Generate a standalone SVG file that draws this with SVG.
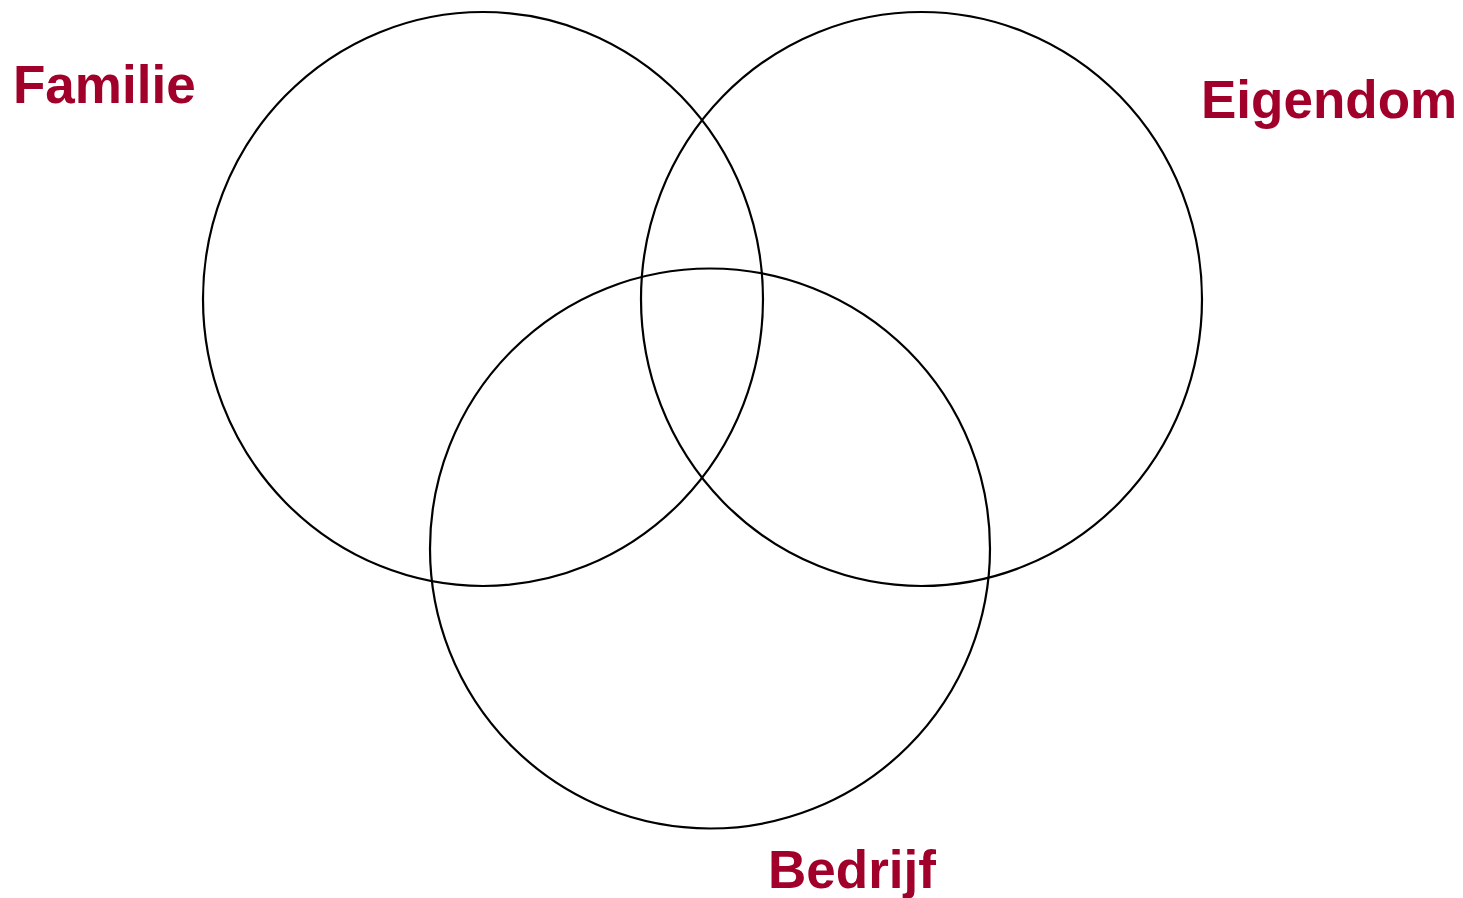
<svg xmlns="http://www.w3.org/2000/svg" width="1463" height="898" viewBox="0 0 1463 898">
<style>
.c{fill:none;stroke:#000;stroke-width:2.2}
.t{font-family:"Liberation Sans",Arial,sans-serif;font-weight:bold;font-size:53px;fill:#A0002A}
</style>
<rect width="1463" height="898" fill="#fff"/>
<g id="familie">
<ellipse class="c" cx="483" cy="299" rx="280" ry="287"/>
<text class="t" x="13" y="103">Familie</text>
</g>
<g id="eigendom">
<ellipse class="c" cx="921.5" cy="299" rx="280.5" ry="287"/>
<text class="t" x="1201" y="118">Eigendom</text>
</g>
<g id="bedrijf">
<circle class="c" cx="710" cy="548.5" r="280"/>
<text class="t" x="768" y="888">Bedrijf</text>
</g>
<g id="connectors"/>
</svg>
